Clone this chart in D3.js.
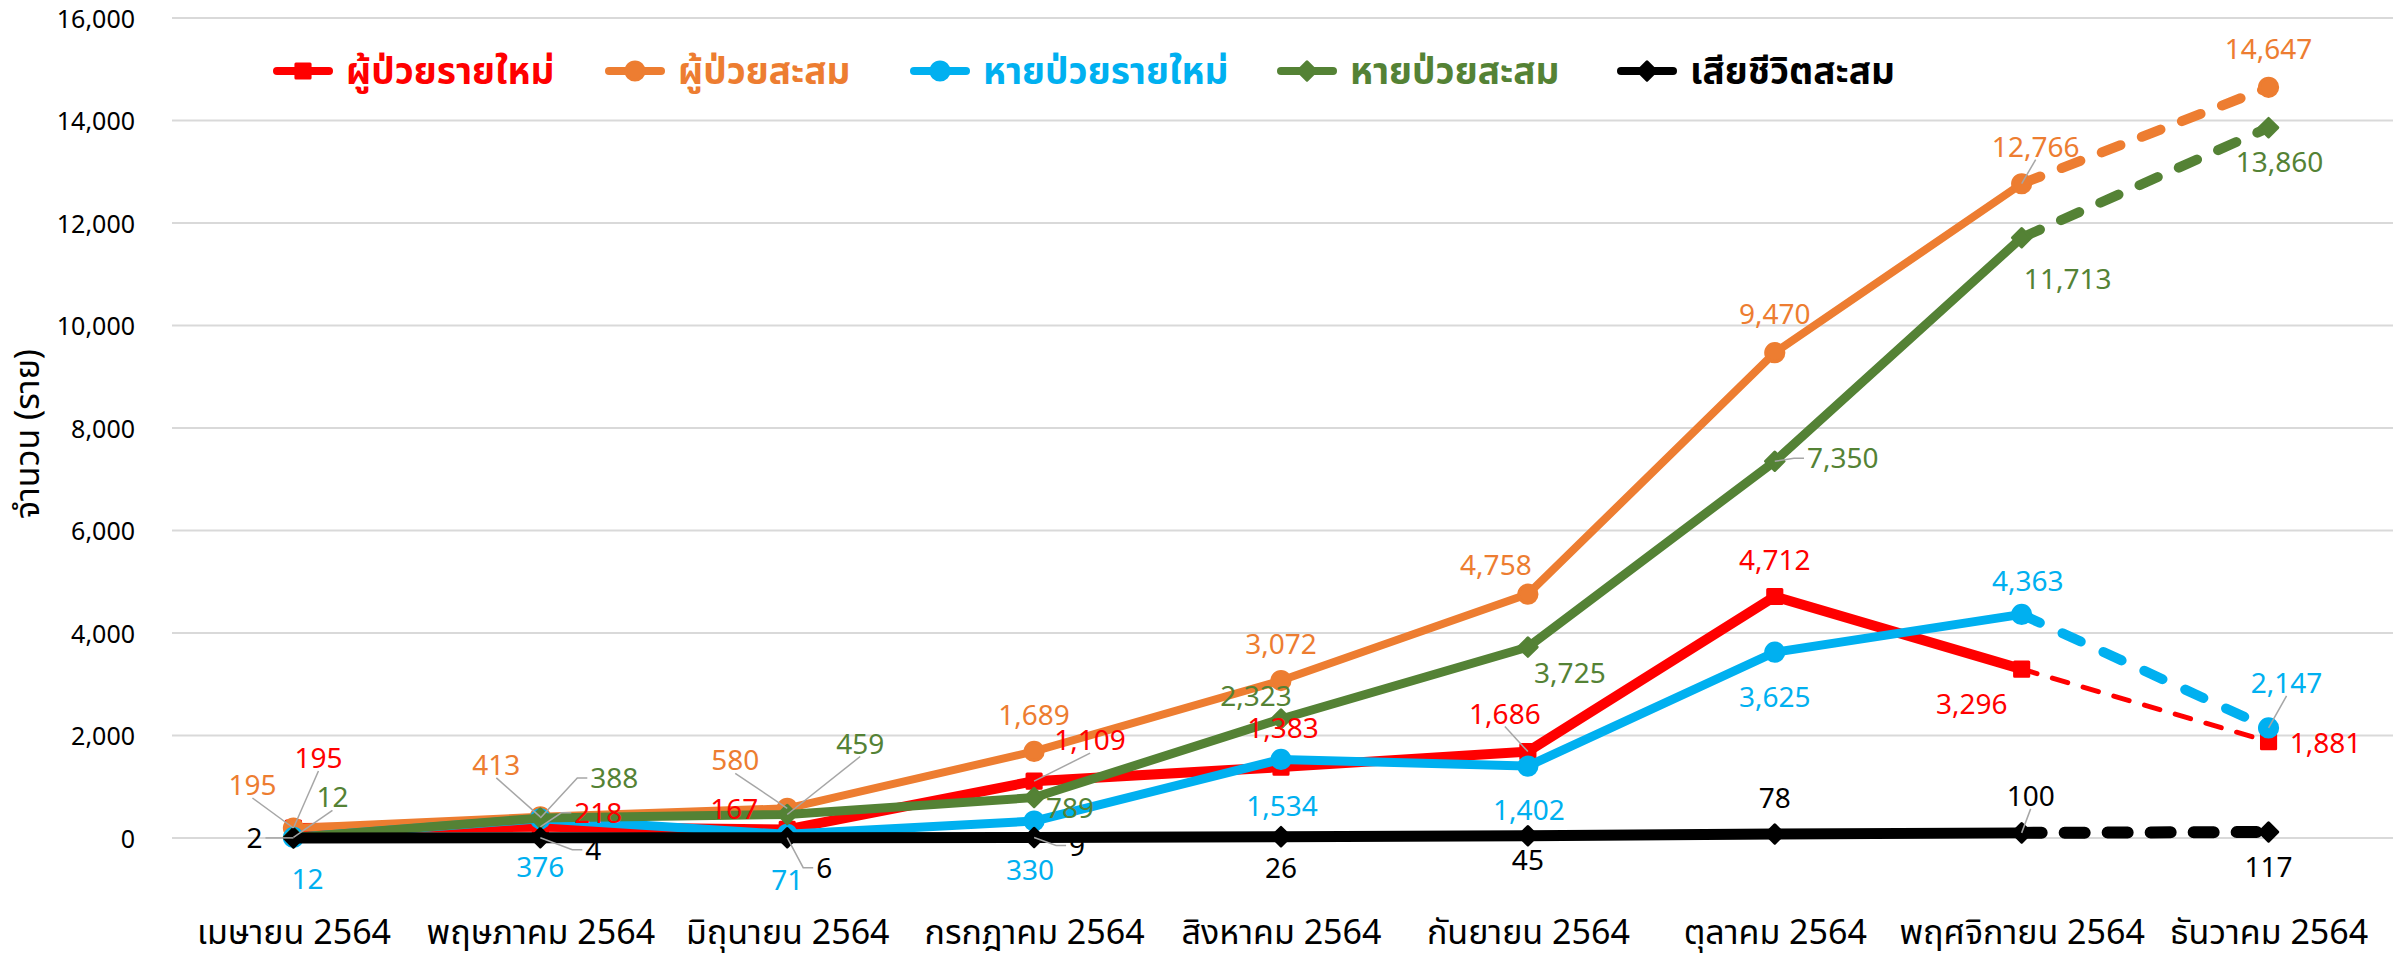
<!DOCTYPE html>
<html>
<head>
<meta charset="utf-8">
<script src="https://cdn.jsdelivr.net/npm/d3@7"></script>
<style>
  body { margin: 0; background: #fff; }
  text { font-family: "Tahoma", "Leelawadee UI", "Noto Sans Thai", "DejaVu Sans", sans-serif; }
</style>
</head>
<body>
<div id="chart"></div>
<script>
const width = 2397;
const height = 958;

const months = ["เมษายน 2564", "พฤษภาคม 2564", "มิถุนายน 2564", "กรกฎาคม 2564", "สิงหาคม 2564",
  "กันยายน 2564", "ตุลาคม 2564", "พฤศจิกายน 2564", "ธันวาคม 2564"];
const newCases = [195, 218, 167, 1109, 1383, 1686, 4712, 3296, 1881];
const totalCases = [195, 413, 580, 1689, 3072, 4758, 9470, 12766, 14647];
const newRecovered = [12, 376, 71, 330, 1534, 1402, 3625, 4363, 2147];
const totalRecovered = [12, 388, 459, 789, 2323, 3725, 7350, 11713, 13860];
const totalDeaths = [2, 4, 6, 9, 26, 45, 78, 100, 117];
const seriesNames = ["ผู้ป่วยรายใหม่", "ผู้ป่วยสะสม", "หายป่วยรายใหม่", "หายป่วยสะสม", "เสียชีวิตสะสม"];
const yTicks = [0, 2000, 4000, 6000, 8000, 10000, 12000, 14000, 16000];
const yTitle = "จำนวน (ราย)";

// label placement next to each point: [dx, dy, leader line?]
const labelPos = [
  [[25, -70, 1], [58, -14, 1], [-53, -21, 0], [56, -41, 1], [2, -39, 0], [-23, -38, 1], [0, -37, 0], [-50, 35, 0], [57, 1, 0]],
  [[-41, -43, 1], [-44, -52, 1], [-52, -48, 1], [0, -37, 0], [0, -37, 0], [-32, -29, 0], [0, -39, 0], [14, -37, 1], [0, -38, 0]],
  [[14, 42, 0], [0, 48, 0], [0, 46, 0], [-4, 49, 0], [1, 47, 0], [1, 44, 0], [0, 45, 0], [6, -33, 0], [18, -45, 1]],
  [[39, -40, 1], [74, -40, 1], [73, -71, 1], [36, 10, 0], [-25, -23, 0], [42, 26, 0], [68, -3, 1], [46, 41, 0], [11, 34, 0]],
  [[-39, 0, 1], [53, 12, 1], [37, 30, 1], [43, 8, 1], [0, 31, 0], [0, 24, 0], [0, -36, 0], [9, -37, 1], [0, 35, 0]]
];

const series = [
  { name: seriesNames[0], values: newCases, color: "#ff0000", w: 10, dw: 5, dash: "16 16", marker: "square" },
  { name: seriesNames[1], values: totalCases, color: "#ed7d31", w: 8, dw: 10, dash: "20 23", marker: "circle" },
  { name: seriesNames[2], values: newRecovered, color: "#00b0f0", w: 9, dw: 10, dash: "20 25", marker: "circle" },
  { name: seriesNames[3], values: totalRecovered, color: "#548235", w: 9, dw: 10, dash: "20 23", marker: "diamond" },
  { name: seriesNames[4], values: totalDeaths, color: "#000000", w: 11, dw: 12, dash: "20 23", marker: "diamond" }
];

const svg = d3.select("#chart").append("svg")
  .attr("width", width)
  .attr("height", height);

const x = d3.scalePoint()
  .domain(months)
  .range([170, 2392])
  .padding(0.5);

const y = d3.scaleLinear()
  .domain([0, 16000])
  .range([838, 18]);

// gridlines
svg.append("g")
  .selectAll("line")
  .data(yTicks)
  .join("line")
  .attr("x1", 172)
  .attr("x2", 2393)
  .attr("y1", d => y(d))
  .attr("y2", d => y(d))
  .attr("stroke", "#d9d9d9")
  .attr("stroke-width", 2);

// y axis labels
const yAxis = d3.axisLeft(y)
  .tickValues(yTicks)
  .tickFormat(d3.format(","))
  .tickSize(0)
  .tickPadding(0);
const yg = svg.append("g")
  .attr("transform", "translate(135,0)")
  .call(yAxis);
yg.select(".domain").remove();
yg.selectAll("text")
  .attr("font-family", "DejaVu Sans")
  .attr("font-size", 25)
  .attr("fill", "#000")
  .attr("dy", "0.36em");

// x axis labels
const xAxis = d3.axisBottom(x).tickSize(0).tickPadding(0);
const xg = svg.append("g")
  .attr("transform", "translate(0,932)")
  .call(xAxis);
xg.select(".domain").remove();
xg.selectAll("text")
  .attr("font-size", 34)
  .attr("fill", "#000")
  .attr("dy", "0.36em");

svg.append("text")
  .attr("transform", "translate(27,434) rotate(-90)")
  .attr("text-anchor", "middle")
  .attr("dy", "0.36em")
  .attr("font-size", 34)
  .text(yTitle);

function markerPath(type) {
  if (type === "circle") return d3.symbol(d3.symbolCircle, 260)();
  if (type === "square") return d3.symbol(d3.symbolSquare, 200)();
  return d3.symbol(d3.symbolSquare, 170)();
}

const line = d3.line()
  .x(d => x(d.m))
  .y(d => y(d.v));

series.forEach(s => {
  const pts = s.values.map((v, i) => ({ m: months[i], v: v }));
  const g = svg.append("g");
  g.append("path")
    .attr("d", line(pts.slice(0, 8)))
    .attr("fill", "none")
    .attr("stroke", s.color)
    .attr("stroke-width", s.w)
    .attr("stroke-linejoin", "round")
    .attr("stroke-linecap", "round");
  g.append("path")
    .attr("d", line(pts.slice(7)))
    .attr("fill", "none")
    .attr("stroke", s.color)
    .attr("stroke-width", s.dw)
    .attr("stroke-dasharray", s.dash)
    .attr("stroke-linecap", "round");
  g.selectAll(".mk")
    .data(pts)
    .join("path")
    .attr("d", markerPath(s.marker))
    .attr("transform", d => "translate(" + x(d.m) + "," + y(d.v) + ")" + (s.marker === "diamond" ? " rotate(45)" : ""))
    .attr("fill", s.color)
    .attr("stroke", s.color)
    .attr("stroke-width", 3)
    .attr("stroke-linejoin", "round");
});

// data labels + leader lines
const labelFont = 28;
const labels = svg.append("g");
const leaders = svg.append("g");
series.forEach((s, si) => {
  s.values.forEach((v, i) => {
    const px = x(months[i]);
    const py = y(v);
    const p = labelPos[si][i];
    const cx = px + p[0];
    const cy = py + p[1];
    const t = labels.append("text")
      .attr("x", cx)
      .attr("y", cy)
      .attr("dy", "0.36em")
      .attr("text-anchor", "middle")
      .attr("font-size", labelFont)
      .attr("fill", s.color)
      .text(d3.format(",")(v));
    if (p[2]) {
      const w = t.node().getComputedTextLength();
      const h = 22;
      let pathPts;
      if (Math.abs(p[1]) - h / 2 > Math.abs(p[0]) - w / 2) {
        const ay = p[1] < 0 ? cy + h / 2 + 2 : cy - h / 2 - 2;
        pathPts = [[cx, ay], [px, py]];
      } else if (p[0] < 0) {
        const ax = cx + w / 2 + 3;
        pathPts = [[ax, cy], [ax + 10, cy], [px, py]];
      } else {
        const ax = cx - w / 2 - 3;
        pathPts = [[ax, cy], [ax - 10, cy], [px, py]];
      }
      leaders.append("path")
        .attr("d", d3.line()(pathPts))
        .attr("fill", "none")
        .attr("stroke", "#a6a6a6")
        .attr("stroke-width", 1.5);
    }
  });
});

// legend
const legendX = [273, 605, 910, 1277, 1617];
const legend = svg.append("g").attr("transform", "translate(0,71)");
series.forEach((s, i) => {
  const g = legend.append("g").attr("transform", "translate(" + legendX[i] + ",0)");
  g.append("line")
    .attr("x1", 4).attr("x2", 56)
    .attr("stroke", s.color)
    .attr("stroke-width", 8)
    .attr("stroke-linecap", "round");
  g.append("path")
    .attr("d", markerPath(s.marker))
    .attr("transform", "translate(30,0)" + (s.marker === "diamond" ? " rotate(45)" : ""))
    .attr("fill", s.color)
    .attr("stroke", s.color)
    .attr("stroke-width", 3)
    .attr("stroke-linejoin", "round");
  g.append("text")
    .attr("x", 73)
    .attr("dy", "0.36em")
    .attr("font-size", 37)
    .attr("font-weight", "bold")
    .attr("fill", s.color)
    .text(s.name);
});
</script>
</body>
</html>
